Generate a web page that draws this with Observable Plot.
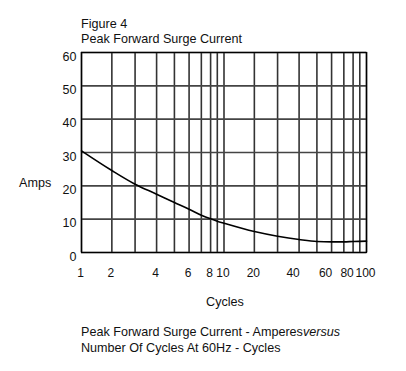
<!DOCTYPE html>
<html><head><meta charset="utf-8">
<script src="https://cdn.jsdelivr.net/npm/d3@7"></script>
<script src="https://cdn.jsdelivr.net/npm/@observablehq/plot@0.6"></script>
<style>
body{margin:0;background:#fff;font-family:"Liberation Sans",Arial,sans-serif;color:#111;}
#wrap{position:relative;width:406px;height:371px;overflow:hidden;}
#chart{position:absolute;left:0;top:0;}
.t{position:absolute;font-size:12.6px;line-height:15px;white-space:nowrap;}
</style></head><body>
<div id="wrap">
<div id="chart"></div>
<div class="t" style="left:81px;top:17.3px">Figure 4<br>Peak Forward Surge Current</div>
<div class="t" style="left:19px;top:175.8px">Amps</div>
<div class="t" style="left:225px;top:295.3px;transform:translateX(-50%)">Cycles</div>
<div class="t" style="left:81px;top:323.8px;line-height:16px">Peak Forward Surge Current - Amperes<i>versus</i><br>Number Of Cycles At 60Hz - Cycles</div>
</div>
<script>
// Curve values
const cycles = [1,2,3,4,5,6,7,8,9,10,20,30,40,50,60,70,80,90,100];
const amps   = [30.5,24.6,20.5,17.5,15.0,13.0,11.2,10.1,9.4,8.8,6.3,4.9,3.9,3.3,3.2,3.2,3.3,3.35,3.4];
// Grid lines and tick labels
const gridCycles = [1,2,3,4,5,6,7,8,9,10,20,30,40,50,60,70,80,90,100];
const gridAmps = [0,10,20,30,40,50,60];
const xTickLabels = [1,2,4,6,8,10,20,100];
const xTickLabelsShifted = [40,60,80];
const yTickLabels = [0,10,20,30,40,50,60];

const data = cycles.map((c, i) => ({cycles: c, amps: amps[i]}));

const W = 406, H = 371;
const mL = 81, mR = 40, mT = 52, mB = 119;
// the printed log paper is slightly distorted: position of 1..9 inside each decade
const decadeFrac = [0, .213, .376, .527, .652, .755, .841, .906, .953];
const left = mL, right = W - mR, decW = (right - left) / 2;
const xRange = gridCycles.map(v => {
  const d = Math.floor(Math.log10(v) + 1e-9);
  const k = Math.round(v / Math.pow(10, d));
  return left + (d + decadeFrac[k - 1]) * decW;
});

const chart = Plot.plot({
  width: W, height: H,
  marginLeft: mL, marginRight: mR, marginTop: mT, marginBottom: mB,
  style: {fontFamily: '"Liberation Sans", Arial, sans-serif', fontSize: "12px", color: "#111", background: "#fff"},
  x: {type: "linear", domain: gridCycles, range: xRange},
  y: {domain: [0, 60]},
  marks: [
    Plot.ruleX(gridCycles, {stroke: "#333", strokeWidth: 1.6}),
    Plot.ruleY(gridAmps, {stroke: "#444", strokeWidth: 1.6}),
    Plot.line(data, {x: "cycles", y: "amps", curve: "monotone-x", stroke: "#000", strokeWidth: 1.6}),
    Plot.frame({stroke: "#000", strokeWidth: 1.3}),
    Plot.axisX({ticks: xTickLabels, tickSize: 0, tickPadding: 16, dx: -1, tickFormat: d => String(d), label: null, fontSize: 12}),
    Plot.axisX({ticks: xTickLabelsShifted, tickSize: 0, tickPadding: 16, dx: -6, tickFormat: d => String(d), label: null, fontSize: 12}),
    Plot.axisY({ticks: yTickLabels, tickSize: 0, tickPadding: 5, dy: 4, tickFormat: d => String(d), label: null, fontSize: 12.5})
  ]
});
document.getElementById("chart").appendChild(chart);
</script>
</body></html>
